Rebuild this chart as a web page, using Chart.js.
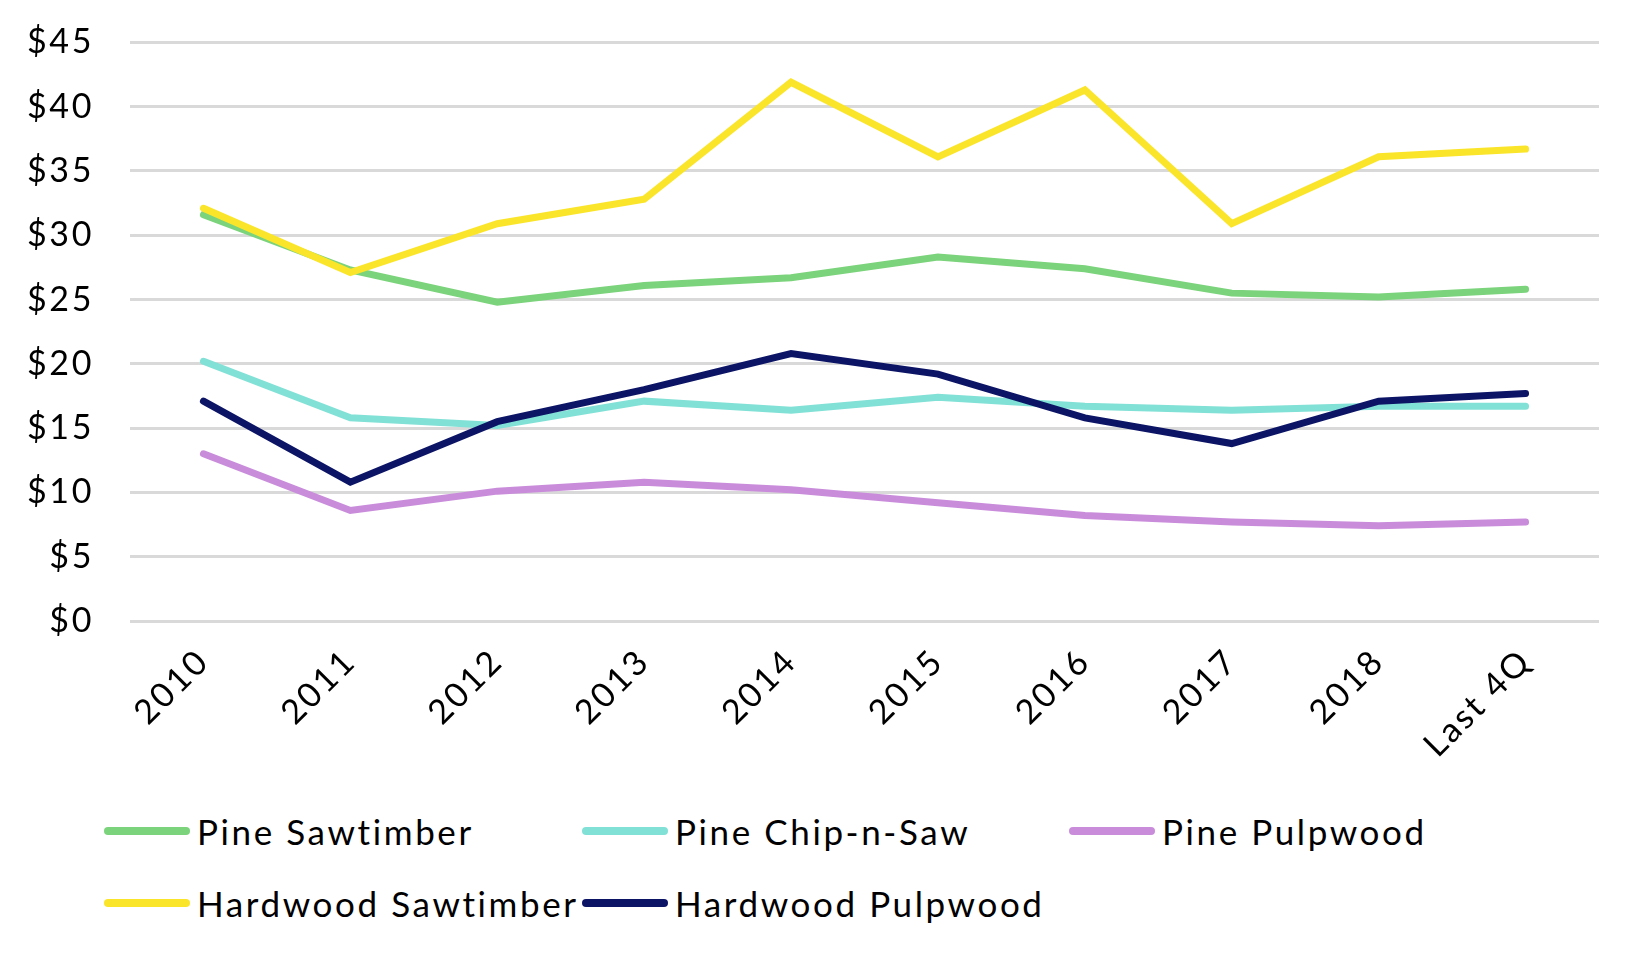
<!DOCTYPE html>
<html lang="en">
<head>
    <meta charset="UTF-8">
    <title>Timber Prices</title>
    <script src="https://cdn.jsdelivr.net/npm/chart.js"></script>
    <style>
        body { margin: 0; background: #fff; overflow: hidden; }
        #wrap { position: relative; width: 1646px; height: 954px; overflow: hidden; }
        #chartBox { position: absolute; left: 0; top: -14px; width: 1646px; height: 814px; }
        .legend { position: absolute; left: 104px; top: 810px; width: 1500px; font-family: Lato, sans-serif; font-size: 35px; letter-spacing: 2.6px; color: #000; }
        .legend .item { position: absolute; display: flex; align-items: center; white-space: nowrap; }
        .legend .sw { width: 86px; height: 8px; border-radius: 4px; margin-right: 7px; }
    </style>
</head>
<body>
<div id="wrap">
    <div id="chartBox"><canvas id="priceChart"></canvas></div>
    <div class="legend" id="legend"></div>
</div>
<script>
    // categories
    const years = ["2010", "2011", "2012", "2013", "2014", "2015", "2016", "2017", "2018", "Last 4Q"];

    // $ per ton
    const pineSaw = [31.6, 27.3, 24.8, 26.1, 26.7, 28.3, 27.4, 25.5, 25.2, 25.8];
    const pineCns = [20.2, 15.8, 15.2, 17.1, 16.4, 17.4, 16.7, 16.4, 16.7, 16.7];
    const pinePulp = [13.0, 8.6, 10.1, 10.8, 10.2, 9.2, 8.2, 7.7, 7.4, 7.7];
    const hardSaw = [32.1, 27.1, 30.9, 32.8, 41.9, 36.1, 41.3, 30.9, 36.1, 36.7];
    const hardPulp = [17.1, 10.8, 15.5, 18.0, 20.8, 19.2, 15.8, 13.8, 17.1, 17.7];

    const seriesNames = ["Pine Sawtimber", "Pine Chip-n-Saw", "Pine Pulpwood", "Hardwood Sawtimber", "Hardwood Pulpwood"];
    const seriesColors = ["#7BD37B", "#82E1D6", "#C98CDB", "#FBE52A", "#0C1466"];
    const seriesData = [pineSaw, pineCns, pinePulp, hardSaw, hardPulp];

    // draw order: yellow above green, navy above teal
    const drawOrder = [4, 3, 2, 1, 0];

    const spacing = {
        id: 'spacing',
        beforeLayout(chart) { chart.ctx.letterSpacing = '2.6px'; },
        beforeDraw(chart) { chart.ctx.letterSpacing = '2.6px'; }
    };

    var ctx = document.getElementById('priceChart').getContext('2d');
    var priceChart = new Chart(ctx, {
        type: 'line',
        data: {
            labels: years,
            datasets: seriesNames.map((name, i) => ({
                label: name,
                data: seriesData[i],
                borderColor: seriesColors[i],
                backgroundColor: seriesColors[i],
                borderWidth: 7,
                pointRadius: 0,
                borderCapStyle: 'round',
                tension: 0,
                fill: false,
                order: drawOrder[i]
            }))
        },
        options: {
            responsive: true,
            maintainAspectRatio: false,
            animation: false,
            layout: { padding: { left: 0, right: 47, top: 11, bottom: 0 } },
            plugins: {
                legend: { display: false },
                tooltip: { enabled: false }
            },
            scales: {
                x: {
                    offset: true,
                    grid: { display: false },
                    border: { display: false },
                    ticks: {
                        color: '#000',
                        font: { family: 'Lato', size: 34 },
                        maxRotation: 45,
                        minRotation: 45,
                        padding: 12
                    },
                    afterFit(scale) { scale.height = 179; }
                },
                y: {
                    min: 0,
                    max: 45,
                    border: { display: false },
                    grid: { color: '#D9D9D9', lineWidth: 3, drawTicks: false },
                    ticks: {
                        stepSize: 5,
                        color: '#000',
                        font: { family: 'Lato', size: 34 },
                        padding: 36,
                        callback: v => '$' + v
                    },
                    afterFit(scale) { scale.width = 130; }
                }
            }
        },
        plugins: [spacing]
    });

    // legend laid out like the original grid
    const legendPos = [[0, 0], [478, 0], [965, 0], [0, 72], [478, 72]];
    const legend = document.getElementById('legend');
    seriesNames.forEach((name, i) => {
        const item = document.createElement('div');
        item.className = 'item';
        item.style.left = legendPos[i][0] + 'px';
        item.style.top = legendPos[i][1] + 'px';
        item.innerHTML = '<span class="sw" style="background:' + seriesColors[i] + '"></span><span>' + name + '</span>';
        legend.appendChild(item);
    });
</script>
</body>
</html>
